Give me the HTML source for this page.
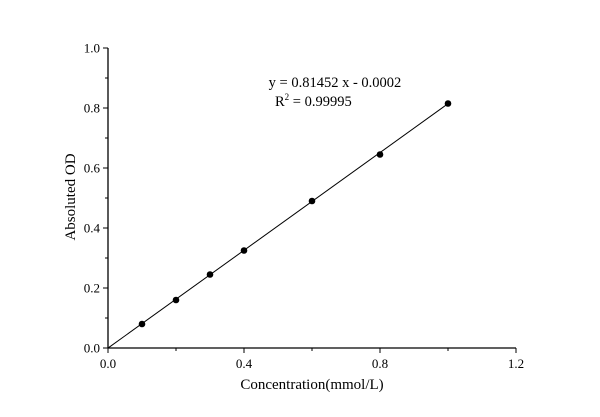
<!DOCTYPE html>
<html><head><meta charset="utf-8"><style>
body{margin:0;background:#fff;}
svg{display:block;font-family:"Liberation Serif",serif;}
</style></head><body>
<svg id="chart" width="600" height="417" xmlns="http://www.w3.org/2000/svg">
<g id="axes"></g>
<g id="marks"></g>
<text x="335" y="87" font-size="14.5" text-anchor="middle">y = 0.81452 x - 0.0002</text>
<text x="275" y="106" font-size="14.5">R<tspan font-size="9" dy="-6">2</tspan><tspan dy="6"> = 0.99995</tspan></text>
<text x="312" y="389" font-size="15" text-anchor="middle">Concentration(mmol/L)</text>
<text x="0" y="0" font-size="15" text-anchor="middle" transform="translate(75,197) rotate(-90)">Absoluted OD</text>
</svg>
<script>
const xData=[0.1,0.2,0.3,0.4,0.6,0.8,1.0];
const yData=[0.08,0.16,0.245,0.325,0.49,0.645,0.815];
const xTicks=[0,0.4,0.8,1.2];
const xTickLabels=["0.0","0.4","0.8","1.2"];
const yTicks=[0,0.2,0.4,0.6,0.8,1.0];
const yTickLabels=["0.0","0.2","0.4","0.6","0.8","1.0"];
const slope=0.81452, intercept=-0.0002;
const X0=108,X1=516,Y0=348,Y1=48;
const sx=v=>X0+v/1.2*(X1-X0);
const sy=v=>Y0-v/1.0*(Y0-Y1);
const NS="http://www.w3.org/2000/svg";
const axes=document.getElementById('axes'),marks=document.getElementById('marks');
function mk(p,t,a){const e=document.createElementNS(NS,t);for(const k in a)e.setAttribute(k,a[k]);p.appendChild(e);return e;}
let e=mk(axes,'line',{x1:X0,y1:Y0,x2:X1,y2:Y0,stroke:'#000','stroke-width':1.3});


e=mk(axes,'line',{x1:X0,y1:Y0,x2:X0,y2:Y1,stroke:'#000','stroke-width':1.3});


xTicks.forEach((v,i)=>{
 mk(axes,'line',{x1:sx(v),y1:Y0,x2:sx(v),y2:Y0+5,stroke:'#000'});
 if(i<xTicks.length-1)mk(axes,'line',{x1:sx(v+0.2),y1:Y0,x2:sx(v+0.2),y2:Y0+3,stroke:'#000'});
 const t=mk(axes,'text',{x:sx(v),y:Y0+20,'font-size':13,'text-anchor':'middle'});t.textContent=xTickLabels[i];
 
 
});
yTicks.forEach((v,i)=>{
 mk(axes,'line',{x1:X0,y1:sy(v),x2:X0-5,y2:sy(v),stroke:'#000'});
 if(i<yTicks.length-1)mk(axes,'line',{x1:X0,y1:sy(v+0.1),x2:X0-3,y2:sy(v+0.1),stroke:'#000'});
 const t=mk(axes,'text',{x:X0-8,y:sy(v)+4.5,'font-size':13,'text-anchor':'end'});t.textContent=yTickLabels[i];
 
 
});
const xmax=Math.max(...xData);
e=mk(marks,'line',{x1:sx(0),y1:sy(intercept),x2:sx(xmax),y2:sy(slope*xmax+intercept),stroke:'#000','stroke-width':1});


xData.forEach((x,i)=>{
 const c=mk(marks,'circle',{cx:sx(x),cy:sy(yData[i]),r:3.3,fill:'#000'});
 
 
});
</script>
</body></html>
